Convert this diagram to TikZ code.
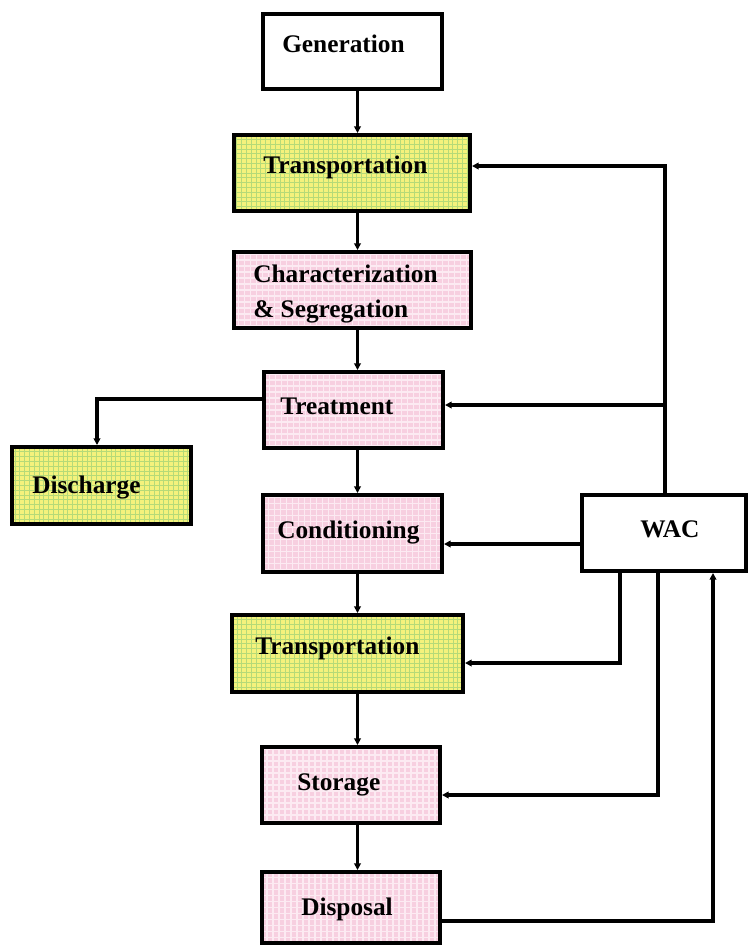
\documentclass[tikz,border=0pt]{standalone}
\usepackage{fontspec}
\setmainfont{Liberation Serif}
\usetikzlibrary{arrows.meta}
\definecolor{pinkbase}{HTML}{F7CFE0}
\definecolor{pinkline}{HTML}{FCEAF2}
\definecolor{yelbase}{HTML}{F4F27C}
\definecolor{grnline}{HTML}{B5DA78}
\tikzset{
  x=0.75pt, y=-0.75pt,
  boxbase/.style={draw=black, line width=3pt, inner sep=0pt, rectangle},
  wbox/.style={boxbase, fill=white},
  pbox/.style={boxbase, fill=pinkbase,
    path picture={\draw[pinkline, line width=0.8pt, step=4.5pt]
      (path picture bounding box.south west) grid (path picture bounding box.north east);}},
  gbox/.style={boxbase, fill=yelbase,
    path picture={\draw[grnline, line width=0.7pt, step=3.6pt]
      (path picture bounding box.south west) grid (path picture bounding box.north east);}},
  bw/.style={minimum width=#1*0.75pt},
  bh/.style={minimum height=#1*0.75pt},
  lbl/.style={anchor=base west, inner sep=0pt, font=\fontsize{19}{23}\selectfont\bfseries},
  conn/.style={line width=2.3pt},
  arr/.style={conn, -{Triangle[length=5pt,width=5pt]}},
}
\begin{document}
\begin{tikzpicture}
\useasboundingbox[fill=white] (0,0) rectangle (748,946);
% boxes
\node[wbox, bw=179, bh=75] (gen)   at (352.5,51.5) {};
\node[gbox, bw=236, bh=76] (tr1)   at (352,173) {};
\node[pbox, bw=237, bh=76] (char)  at (352.5,290) {};
\node[pbox, bw=179, bh=76] (treat) at (353.5,410) {};
\node[gbox, bw=179, bh=77] (disch) at (101.5,485.5) {};
\node[pbox, bw=179, bh=77] (cond)  at (352.5,533.5) {};
\node[wbox, bw=164, bh=76] (wac)   at (664,533) {};
\node[gbox, bw=231, bh=77] (tr2)   at (347.5,653.5) {};
\node[pbox, bw=178, bh=76] (stor)  at (351,785) {};
\node[pbox, bw=178, bh=71] (disp)  at (351,907.5) {};
% labels
\node[lbl] (gen-t)   at (282,52)  {Generation};
\node[lbl] (tr1-t)   at (263,173) {Transportation};
\node[lbl] (char-t1) at (253,282) {Characterization};
\node[lbl] (char-t2) at (253,317) {\& Segregation};
\node[lbl] (treat-t) at (280,414) {Treatment};
\node[lbl] (disch-t) at (32,493)  {Discharge};
\node[lbl] (cond-t)  at (277,538) {Conditioning};
\node[lbl] (wac-t)   at (640,537) {WAC};
\node[lbl] (tr2-t)   at (255,654) {Transportation};
\node[lbl] (stor-t)  at (297,790) {Storage};
\node[lbl] (disp-t)  at (301,915) {Disposal};
% helper coordinates
\coordinate (sp) at (357.5,0);
\coordinate (dx) at (97,0);
\coordinate (y399) at (0,399);
\coordinate (wx1) at (665,0);
\coordinate (y166) at (0,166);
\coordinate (y405) at (0,405);
\coordinate (y544) at (0,544);
\coordinate (wx2) at (620,0);
\coordinate (y663) at (0,663);
\coordinate (wx3) at (658,0);
\coordinate (y795) at (0,795);
\coordinate (wx4) at (713,0);
\coordinate (y921) at (0,921);
% main chain
\draw[arr] (gen.south -| sp) -- (tr1.north -| sp);
\draw[arr] (tr1.south -| sp) -- (char.north -| sp);
\draw[arr] (char.south -| sp) -- (treat.north -| sp);
\draw[arr] (treat.south -| sp) -- (cond.north -| sp);
\draw[arr] (cond.south -| sp) -- (tr2.north -| sp);
\draw[arr] (tr2.south -| sp) -- (stor.north -| sp);
\draw[arr] (stor.south -| sp) -- (disp.north -| sp);
% discharge
\draw[arr] (treat.west |- y399) -| (disch.north -| dx);
% WAC links
\draw[arr] (wac.north -| wx1) |- (tr1.east |- y166);
\draw[arr] (wx1 |- y405) -- (treat.east |- y405);
\draw[arr] (wac.west |- y544) -- (cond.east |- y544);
\draw[arr] (wac.south -| wx2) |- (tr2.east |- y663);
\draw[arr] (wac.south -| wx3) |- (stor.east |- y795);
\draw[arr] (disp.east |- y921) -| (wac.south -| wx4);
\end{tikzpicture}
\end{document}
